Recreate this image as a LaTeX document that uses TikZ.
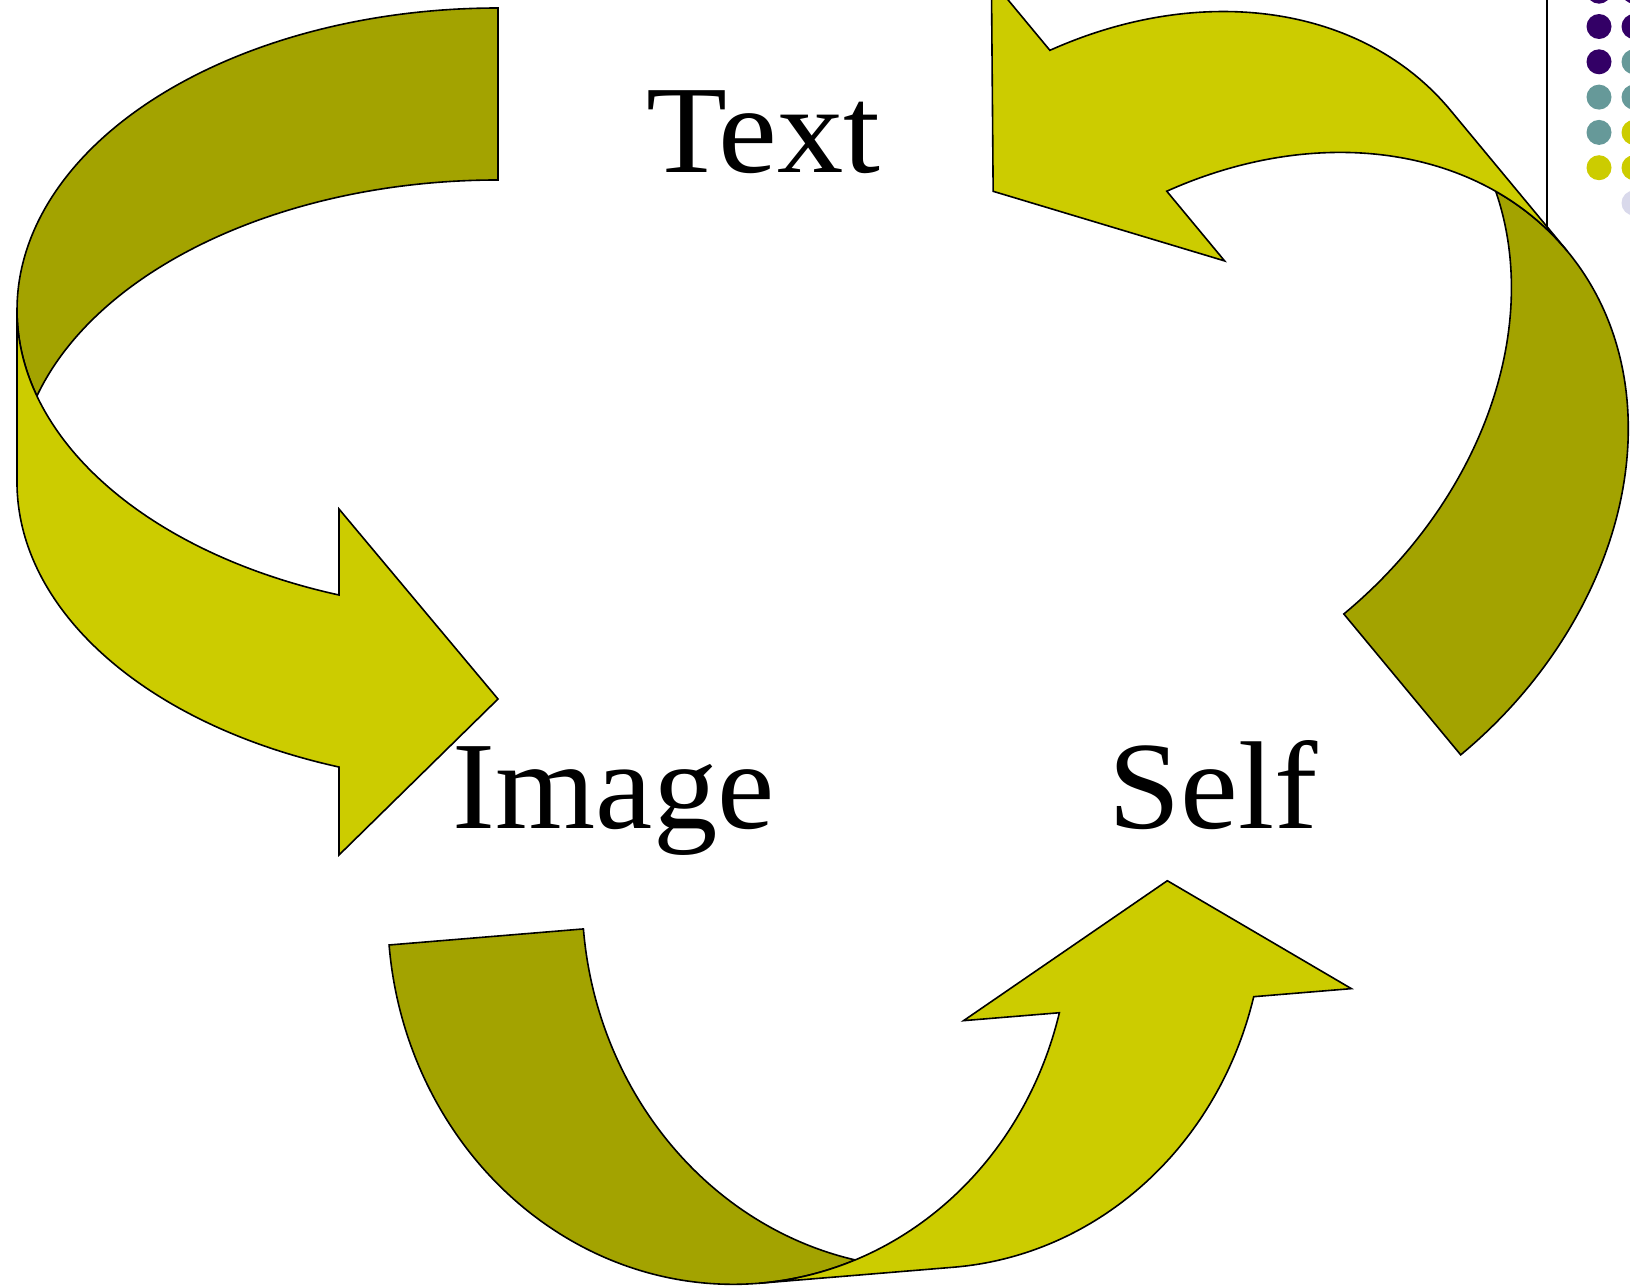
\documentclass[tikz,border=0pt]{standalone}
\usepackage{fontspec}
\setmainfont{Liberation Serif}
\definecolor{lightolive}{HTML}{CCCC00}
\definecolor{darkolive}{HTML}{A3A300}
\definecolor{dotpurple}{HTML}{330066}
\definecolor{dotteal}{HTML}{669999}
\definecolor{dotyellow}{HTML}{CCCC00}
\definecolor{dotlav}{HTML}{D9D9EB}
\tikzset{
  frontband/.style={fill=lightolive, draw=black, line width=1.6pt, line join=miter},
  backband/.style={fill=darkolive, draw=black, line width=1.6pt, line join=miter},
  lbl/.style={inner sep=0pt, anchor=base west, font=\fontsize{125}{150}\selectfont},
  frameline/.style={draw=black, line width=1.5pt},
}
% canonical curved arrow: #1 cx, #2 cy, #3 rx, #4 ry, #5 band width,
% #6 head base x, #7 upper barb y, #8 lower barb y, #9 tip y
\newcommand\CurvArrow[9]{%
  \pgfmathsetmacro\cax{#1}\pgfmathsetmacro\cay{#2}%
  \pgfmathsetmacro\crx{#3}\pgfmathsetmacro\cry{#4}%
  \pgfmathsetmacro\cw{#5}\pgfmathsetmacro\chx{#6}%
  \pgfmathsetmacro\tint{180-asin(\cw/(2*\cry))}%
  \pgfmathsetmacro\tinttwo{180+asin(\cw/(2*\cry))}%
  \pgfmathsetmacro\thead{acos(-(\cax-\chx)/\crx)}%
  \pgfmathsetmacro\yout{\cay+\cw+\cry*sin(\thead)}%
  \path[backband] ({\cax},{\cay-\cry})
     arc[start angle=270, end angle=\tint, x radius=\crx, y radius=\cry]
     arc[start angle=\tinttwo, end angle=270, x radius=\crx, y radius=\cry]
     -- cycle;
  \path[frontband] ({\cax-\crx},{\cay})
     arc[start angle=180, end angle=\thead, x radius=\crx, y radius=\cry]
     -- ({\chx},{#7}) -- ({\cax},{#9}) -- ({\chx},{#8}) -- ({\chx},{\yout})
     arc[start angle=\thead, end angle=180, x radius=\crx, y radius=\cry]
     -- cycle;
}
\begin{document}
\begin{tikzpicture}[x=1pt, y=-1pt]
\useasboundingbox (0,0) rectangle (1630,1285);
% slide frame line and dots
\coordinate (ftop) at (1547,0);
\coordinate (fbot) at (1547,240);
\draw[frameline] (ftop) -- (fbot);
\fill[dotpurple] (1599,-8.8) circle[radius=12.5];
\fill[dotpurple] (1634,-8.8) circle[radius=12.5];
\fill[dotpurple] (1599,26.5) circle[radius=12.5];
\fill[dotpurple] (1634,26.5) circle[radius=12.5];
\fill[dotpurple] (1599,61.8) circle[radius=12.5];
\fill[dotteal] (1634,61.8) circle[radius=12.5];
\fill[dotteal] (1599,97.1) circle[radius=12.5];
\fill[dotteal] (1634,97.1) circle[radius=12.5];
\fill[dotteal] (1599,132.4) circle[radius=12.5];
\fill[dotyellow] (1634,132.4) circle[radius=12.5];
\fill[dotyellow] (1599,167.7) circle[radius=12.5];
\fill[dotyellow] (1634,167.7) circle[radius=12.5];
\fill[dotlav] (1634,203) circle[radius=12.5];
% left arrow (Text -> Image)
\CurvArrow{498}{310}{481}{302}{172}{339}{509}{855}{699}
% top-right arrow (Self -> Text)
\begin{scope}[x={(-0.769pt,-0.638pt)}, y={(-0.638pt,0.769pt)}]
\CurvArrow{-642.7}{-1194.8}{404}{320}{183.2}{-776.5}{-983.5}{-618}{-782}
\end{scope}
% bottom arrow (Image -> Self)
\begin{scope}[x={(-0.0823pt,0.9966pt)}, y={(0.9966pt,0.0823pt)}]
\CurvArrow{-973.8}{651}{367.6}{341}{195}{-1096.5}{876.3}{1265.4}{1090.9}
\end{scope}
% labels
\node[lbl, xscale=1.06] (text) at (646.4,172.5) {Text};
\node[lbl, xscale=1.03] (image) at (452.7,828.5) {Image};
\node[lbl, xscale=1.04] (self) at (1108,828.5) {Self};
\end{tikzpicture}
\end{document}
